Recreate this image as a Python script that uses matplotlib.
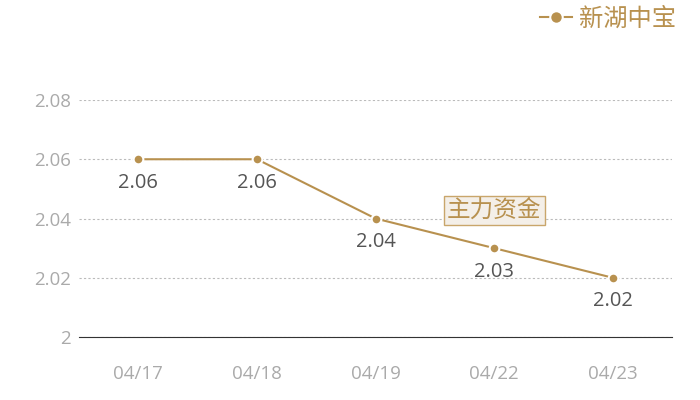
import matplotlib.pyplot as plt
from matplotlib.lines import Line2D

plt.rcParams['font.family'] = ['Open Sans', 'Noto Sans CJK SC', 'DejaVu Sans']

dates = ['04/17', '04/18', '04/19', '04/22', '04/23']
prices = [2.06, 2.06, 2.04, 2.03, 2.02]
yticks = [2.0, 2.02, 2.04, 2.06, 2.08]
ytick_labels = ['2', '2.02', '2.04', '2.06', '2.08']
series_name = '新湖中宝'
note_text = '主力资金'
note_idx = 3

gold = '#b8914f'

fig = plt.figure(figsize=(7, 4), dpi=100)
ax = fig.add_axes([0.113, 0.1575, 0.847, 0.5925])

x = list(range(len(dates)))
ax.plot(x, prices, color=gold, lw=1.5, marker='o', ms=7,
        mec='white', mew=1.5, zorder=3)

for xi, v in zip(x, prices):
    ax.annotate(f'{v:.2f}', (xi, v), xytext=(0, -17), textcoords='offset points',
                ha='center', va='center', fontsize=14.5, color='#555555')

ax.annotate(note_text, (note_idx, prices[note_idx]), xytext=(0, 27),
            textcoords='offset points', ha='center', va='center',
            fontsize=17, color=gold, family=['Noto Sans CJK SC', 'DejaVu Sans'],
            bbox=dict(boxstyle='square,pad=0.14', fc='#f4efe8', ec='#c9a66b', lw=1))

ax.set_xlim(-0.5, len(dates) - 0.5)
ax.set_ylim(2.0, 2.08)
ax.set_xticks(x)
ax.set_xticklabels(dates)
ax.set_yticks(yticks)
ax.set_yticklabels(ytick_labels)
ax.tick_params(length=0, colors='#aaaaaa', labelsize=13.5)
ax.tick_params(axis='x', pad=20)
ax.tick_params(axis='y', pad=6)

ax.grid(axis='y', color='#bbbbbb', linestyle=(0, (2, 2)), lw=0.8)
for s in ['top', 'right', 'left']:
    ax.spines[s].set_visible(False)
ax.spines['bottom'].set_color('#333333')
ax.spines['bottom'].set_linewidth(0.8)

handle = Line2D([], [], color=gold, lw=1.5, marker='o', ms=9, mec='white', mew=1.5)
leg = fig.legend([handle], [series_name], loc='upper right', bbox_to_anchor=(0.997, 1.04),
                 frameon=False, handlelength=1.3, handletextpad=0.3,
                 prop={'family': ['Noto Sans CJK SC', 'DejaVu Sans'], 'size': 17.5})
for t in leg.get_texts():
    t.set_color(gold)

fig.savefig('out.png', dpi=100)
